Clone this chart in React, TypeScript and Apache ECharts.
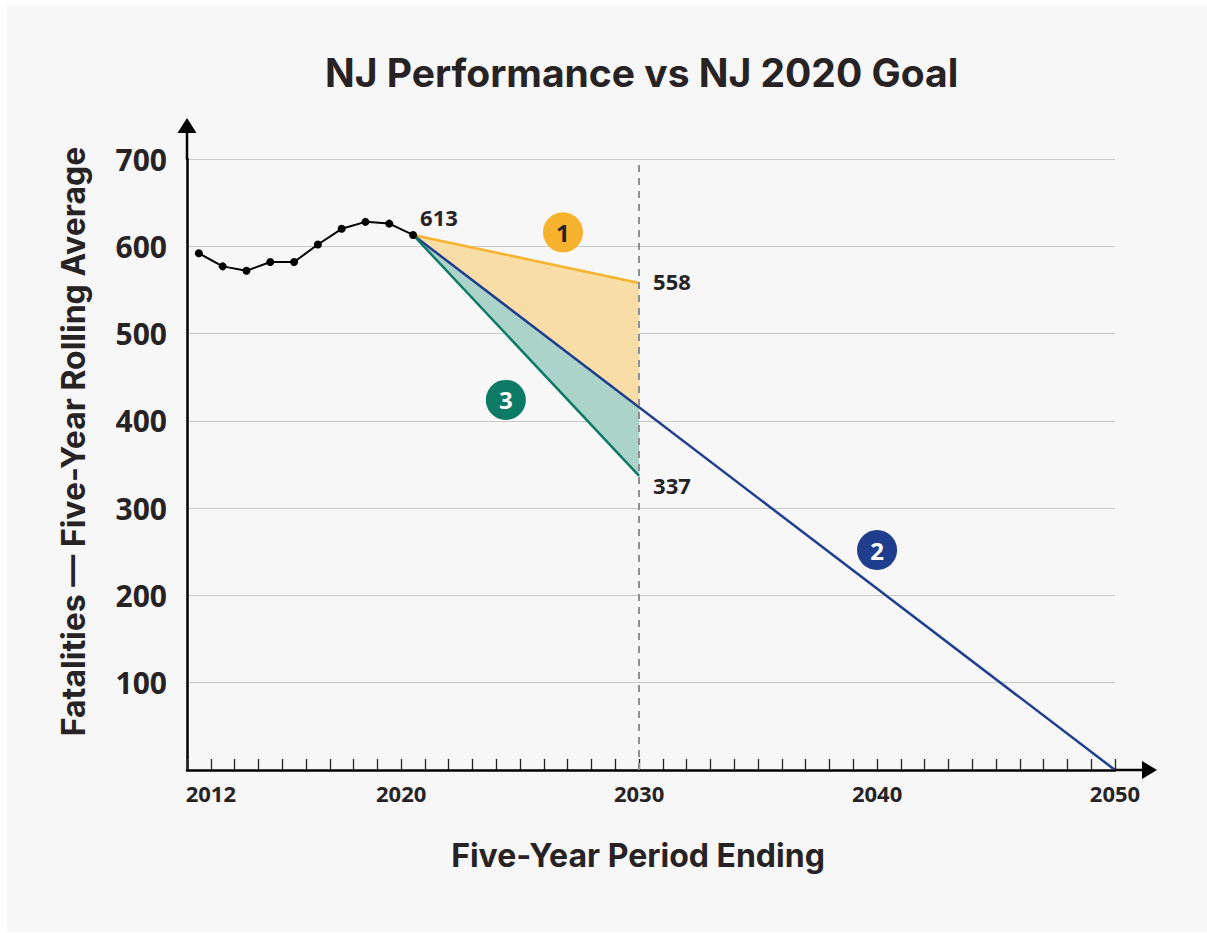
import React, { useEffect, useRef } from "react";
import * as echarts from "echarts";

// ---- data ----
const historyYears = [2011.5, 2012.5, 2013.5, 2014.5, 2015.5, 2016.5, 2017.5, 2018.5, 2019.5, 2020.5];
const historyValues = [592, 577, 572, 582, 582, 602, 620, 628, 626, 613];

const startYear = 2020.5;
const startValue = 613;
const goal1End = [2030, 558]; // path 1 (orange)
const goal2End = [2050, 0]; // path 2 (blue)
const goal3End = [2030, 337]; // path 3 (green)

const badgeLabels = ["1", "2", "3"];
const badgeX = [2026.8, 2040.0, 2024.4];
const badgeY = [616, 252, 424];

const xTickLabels = [2012, 2020, 2030, 2040, 2050];
const yTickLabels = [100, 200, 300, 400, 500, 600, 700];
const markYear = 2030;

// ---- colours / layout ----
const ORANGE = "#F7B22E";
const BLUE = "#1F3F8E";
const GREEN = "#0C7A65";
const ORANGE_FILL = "#F8DEA6";
const GREEN_FILL = "#ACD3CA";
const TEXT = "#272324";
const FONT = "'Open Sans', 'Noto Sans', sans-serif";
const HEAD_FONT = "Inter, 'Open Sans', sans-serif";

const GRID_LEFT = 187;
const GRID_TOP = 159;
const GRID_RIGHT_X = 1115;
const GRID_BOTTOM_Y = 770;

export default function App() {
  const ref = useRef<HTMLDivElement>(null);

  useEffect(() => {
    if (!ref.current) return;
    const chart = echarts.init(ref.current, null, { renderer: "svg" });

    // blue path value where it crosses the 2030 boundary (for the shaded wedges)
    const blueAt2030 =
      startValue + ((goal2End[1] - startValue) * (markYear - startYear)) / (goal2End[0] - startYear);
    const orangeWedge = [
      [startYear, startValue],
      goal1End,
      [markYear, blueAt2030],
    ];
    const greenWedge = [
      [startYear, startValue],
      [markYear, blueAt2030],
      goal3End,
    ];

    const wedge = (pts: number[][], fill: string, z: number) => ({
      type: "custom",
      z,
      silent: true,
      data: [[startYear, startValue]],
      renderItem: (_p: any, api: any) => ({
        type: "polygon",
        shape: { points: pts.map((p) => api.coord(p)) },
        style: { fill, stroke: null },
      }),
    });

    const valueLabel = (offsetY: number, distance: number) => ({
      show: true,
      position: "right",
      distance,
      offset: [0, offsetY],
      color: TEXT,
      fontFamily: FONT,
      fontWeight: "bold",
      fontSize: 22,
      formatter: (p: any) => String(p.value[1]),
    });

    const goalLine = (name: string, color: string, end: number[], labelOffset: number | null) => ({
      type: "line",
      name,
      z: 3,
      symbol: "circle",
      symbolSize: 0.01,
      showAllSymbol: true,
      itemStyle: { color },
      lineStyle: { color, width: 2.5 },
      data: [
        [startYear, startValue],
        labelOffset === null ? end : { value: end, label: valueLabel(labelOffset, 14) },
      ],
    });

    const line1: any = goalLine("Goal path 1", ORANGE, goal1End, -2);
    line1.markLine = {
      silent: true,
      symbol: "none",
      label: { show: false },
      lineStyle: { color: "#8f8f8f", type: [7, 6], width: 2 },
      data: [{ xAxis: markYear }],
    };

    const option: any = {
      animation: false,
      backgroundColor: "#ffffff",
      textStyle: { fontFamily: FONT },
      title: {
        text: "NJ Performance vs NJ 2020 Goal",
        left: 320,
        top: 48,
        textStyle: { fontFamily: HEAD_FONT, fontWeight: "bold", fontSize: 39, color: TEXT },
      },
      grid: {
        left: GRID_LEFT,
        top: GRID_TOP,
        right: 1207 - GRID_RIGHT_X,
        bottom: 933 - GRID_BOTTOM_Y,
        containLabel: false,
      },
      xAxis: {
        type: "value",
        min: 2011,
        max: 2050,
        interval: 1,
        name: "Five-Year Period Ending",
        nameLocation: "middle",
        nameGap: 69,
        nameTextStyle: {
          fontFamily: HEAD_FONT,
          fontWeight: "bold",
          fontSize: 32,
          color: TEXT,
          padding: [0, 26, 0, 0],
        },
        axisLine: { show: true, onZero: false, lineStyle: { color: "#000", width: 2.5 } },
        axisTick: { show: true, inside: true, length: 11, lineStyle: { color: "#222", width: 1.3 } },
        axisLabel: {
          show: true,
          margin: 12,
          fontFamily: FONT,
          fontWeight: "bold",
          fontSize: 22,
          color: TEXT,
          formatter: (v: number) => (xTickLabels.includes(v) ? String(v) : ""),
          showMinLabel: true,
          showMaxLabel: true,
          hideOverlap: false,
        },
        splitLine: { show: false },
      },
      yAxis: {
        type: "value",
        min: 0,
        max: 700,
        interval: 100,
        name: "Fatalities — Five-Year Rolling Average",
        nameLocation: "middle",
        nameGap: 98,
        nameRotate: 90,
        nameTextStyle: {
          fontFamily: HEAD_FONT,
          fontWeight: "bold",
          fontSize: 32,
          color: TEXT,
          padding: [0, 0, 0, 46],
        },
        axisLine: { show: true, lineStyle: { color: "#000", width: 2.5 } },
        axisTick: { show: false },
        axisLabel: {
          margin: 20,
          fontFamily: FONT,
          fontWeight: "bold",
          fontSize: 30,
          color: TEXT,
          formatter: (v: number) => (yTickLabels.includes(v) ? String(v) : ""),
        },
        splitLine: { show: true, lineStyle: { color: "#c9c9c9", width: 1.2 } },
      },
      graphic: [
        {
          type: "rect",
          z: -100,
          silent: true,
          shape: { x: 7, y: 5, width: 1200, height: 927 },
          style: { fill: "#f7f7f7" },
        },
        {
          type: "line",
          z: 100,
          shape: { x1: GRID_LEFT, y1: GRID_TOP + 1, x2: GRID_LEFT, y2: 130 },
          style: { stroke: "#000", lineWidth: 2.5 },
        },
        {
          type: "polygon",
          z: 100,
          shape: { points: [[GRID_LEFT, 118], [GRID_LEFT - 9.5, 133], [GRID_LEFT + 9.5, 133]] },
          style: { fill: "#000" },
        },
        {
          type: "line",
          z: 100,
          shape: { x1: GRID_RIGHT_X - 1, y1: GRID_BOTTOM_Y, x2: 1145, y2: GRID_BOTTOM_Y },
          style: { stroke: "#000", lineWidth: 2.5 },
        },
        {
          type: "polygon",
          z: 100,
          shape: {
            points: [[1157, GRID_BOTTOM_Y], [1142, GRID_BOTTOM_Y - 9], [1142, GRID_BOTTOM_Y + 9]],
          },
          style: { fill: "#000" },
        },
      ],
      series: [
        wedge(orangeWedge, ORANGE_FILL, 1),
        wedge(greenWedge, GREEN_FILL, 1),
        line1,
        goalLine("Goal path 2", BLUE, goal2End, null),
        goalLine("Goal path 3", GREEN, goal3End, 9),
        {
          type: "line",
          name: "NJ Performance",
          z: 5,
          symbol: "circle",
          symbolSize: 8,
          showAllSymbol: true,
          itemStyle: { color: "#000" },
          lineStyle: { color: "#000", width: 2 },
          data: historyYears.map((y, i) =>
            i === historyYears.length - 1
              ? { value: [y, historyValues[i]], label: valueLabel(-18, 3) }
              : [y, historyValues[i]]
          ),
        },
        {
          type: "scatter",
          name: "Badges",
          z: 6,
          symbol: "circle",
          symbolSize: 40,
          silent: true,
          data: badgeLabels.map((b, i) => ({
            value: [badgeX[i], badgeY[i], b],
            itemStyle: { color: [ORANGE, BLUE, GREEN][i], opacity: 1 },
            label: {
              show: true,
              position: "inside",
              formatter: b,
              fontFamily: FONT,
              fontWeight: "bold",
              fontSize: 24,
              color: i === 0 ? TEXT : "#ffffff",
            },
          })),
        },
      ],
    };

    chart.setOption(option);
    return () => chart.dispose();
  }, []);

  return (
    <div
      ref={ref}
      style={{ position: "absolute", left: 0, top: 0, width: 1207, height: 933 }}
    />
  );
}
